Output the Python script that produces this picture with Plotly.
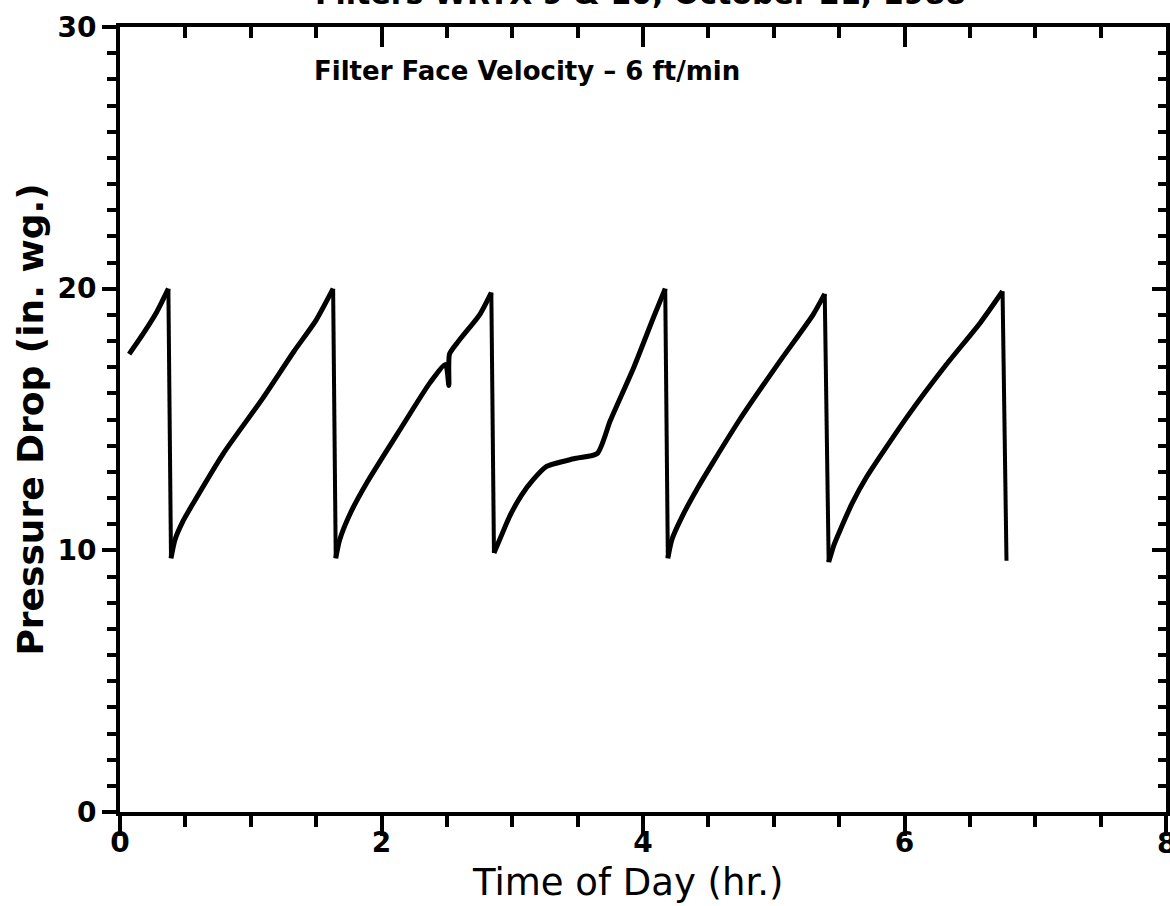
import plotly.graph_objects as go

time_hr = [0.07, 0.18, 0.28, 0.37, 0.39,
           0.42, 0.48, 0.56, 0.79, 1.09, 1.33, 1.50, 1.63, 1.65,
           1.68, 1.76, 1.89, 2.14, 2.37, 2.49, 2.515, 2.52, 2.59, 2.75, 2.84, 2.86,
           2.92, 2.98, 3.07, 3.16, 3.26, 3.47, 3.65, 3.75, 3.93, 4.08, 4.17, 4.19,
           4.22, 4.30, 4.42, 4.54, 4.74, 5.05, 5.30, 5.39, 5.42,
           5.46, 5.51, 5.60, 5.71, 6.02, 6.32, 6.58, 6.75, 6.78]
pressure = [17.5, 18.3, 19.1, 20.0, 9.7,
            10.4, 11.1, 11.8, 13.7, 15.8, 17.6, 18.8, 20.0, 9.7,
            10.4, 11.4, 12.6, 14.6, 16.4, 17.1, 16.3, 17.5, 18.0, 19.0, 19.85, 9.9,
            10.6, 11.3, 12.1, 12.7, 13.2, 13.5, 13.7, 14.96, 17.0, 18.9, 20.0, 9.7,
            10.4, 11.3, 12.4, 13.4, 15.0, 17.25, 19.0, 19.8, 9.55,
            10.2, 10.8, 11.8, 12.8, 15.1, 17.1, 18.7, 19.9, 9.6]

x_ticks = [0, 2, 4, 6, 8]
y_ticks = [0, 10, 20, 30]

title_text = "Filters WRTX-9 & 10, October 21, 1988"
note_text = "Filter Face Velocity \u2013 6 ft/min"
x_title = "Time of Day (hr.)"
y_title = "Pressure Drop (in. wg.)"

FONT = "DejaVu Sans"

# split the record into gradual rises (smoothed) and abrupt filter drops (straight)
rise_x, rise_y, drop_x, drop_y = [], [], [], []
for i in range(len(time_hr)):
    if i > 0 and pressure[i] < pressure[i - 1] - 3:
        rise_x.append(None); rise_y.append(None)
        drop_x += [time_hr[i - 1], time_hr[i], None]
        drop_y += [pressure[i - 1], pressure[i], None]
    rise_x.append(time_hr[i]); rise_y.append(pressure[i])

fig = go.Figure()
fig.add_trace(go.Scatter(x=rise_x, y=rise_y, mode="lines",
                         line=dict(color="black", width=5, shape="spline", smoothing=0.6),
                         connectgaps=False, showlegend=False, hoverinfo="skip"))
fig.add_trace(go.Scatter(x=drop_x, y=drop_y, mode="lines",
                         line=dict(color="black", width=4),
                         connectgaps=False, showlegend=False, hoverinfo="skip"))

axis_common = dict(showgrid=False, zeroline=False, showline=True,
                   linecolor="black", linewidth=4, tickcolor="black",
                   tickwidth=4)

fig.update_layout(
    width=1170, height=906,
    margin=dict(l=120, r=4, t=27, b=94),
    paper_bgcolor="white", plot_bgcolor="white",
    xaxis=dict(range=[0, 8], tickvals=x_ticks, ticks="outside", ticklen=20,
               ticklabelstandoff=-18,
               minor=dict(dtick=0.5, ticks="outside", ticklen=11, tickwidth=4,
                          tickcolor="black"),
               tickfont=dict(family=FONT, size=28, color="black", weight="bold"),
               **axis_common),
    yaxis=dict(range=[0, 30], tickvals=y_ticks, ticks="outside", ticklen=14,
               minor=dict(dtick=1, ticks="outside", ticklen=9, tickwidth=4,
                          tickcolor="black"),
               tickfont=dict(family=FONT, size=28, color="black", weight="bold"),
               title=dict(text=y_title, font=dict(family=FONT, size=36, color="black",
                                                  weight="bold"), standoff=4),
               **axis_common),
    xaxis2=dict(range=[0, 8], overlaying="x", side="top", tickvals=x_ticks,
                ticks="inside", ticklen=20, showticklabels=False,
                minor=dict(dtick=0.5, ticks="inside", ticklen=11, tickwidth=4,
                           tickcolor="black"),
                **axis_common),
    yaxis2=dict(range=[0, 30], overlaying="y", side="right", tickvals=y_ticks,
                ticks="inside", ticklen=14, showticklabels=False,
                minor=dict(dtick=1, ticks="inside", ticklen=8, tickwidth=4,
                           tickcolor="black"),
                **axis_common),
)

# invisible trace to activate secondary axes
fig.add_trace(go.Scatter(x=[None], y=[None], xaxis="x2", yaxis="y2",
                         showlegend=False, hoverinfo="skip"))

fig.add_annotation(text=title_text, xref="paper", yref="paper", x=0.498, y=1.0,
                   yshift=14, xanchor="center", yanchor="bottom", showarrow=False,
                   font=dict(family=FONT, size=30, color="black", weight="bold"))
fig.add_annotation(text=note_text, xref="x", yref="y", x=1.47, y=28.3,
                   xanchor="left", yanchor="middle", showarrow=False,
                   font=dict(family=FONT, size=26, color="black", weight="bold"))
# x-axis title placed just under the tick labels, as in the original
fig.add_annotation(text=x_title, xref="x", yref="paper", x=3.88, y=0,
                   yshift=-70, xanchor="center", yanchor="middle", showarrow=False,
                   font=dict(family=FONT, size=37, color="black"))
# last tick label, clipped at the page edge as in the original
fig.add_annotation(text=str(x_ticks[-1]), xref="x", yref="paper", x=x_ticks[-1], y=0,
                   yshift=-31, xanchor="center", yanchor="middle", showarrow=False,
                   font=dict(family=FONT, size=28, color="black", weight="bold"))

fig.write_html("out.html")
